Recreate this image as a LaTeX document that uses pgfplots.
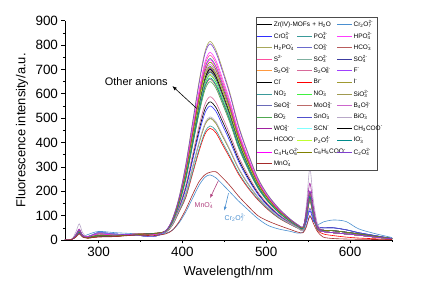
\documentclass[border=0pt]{standalone}
\usepackage{pgfplots}
\pgfplotsset{compat=1.18}
\usepackage{fontspec}
\setmainfont{Liberation Sans}
\usetikzlibrary{arrows.meta}
\newcommand{\io}[2]{\makebox[0pt][l]{\textsubscript{#1}}\textsuperscript{#2}}
\definecolor{c1}{HTML}{000000}
\definecolor{c2}{HTML}{4A8FD0}
\definecolor{c3}{HTML}{2F2FFF}
\definecolor{c4}{HTML}{3A9A9A}
\definecolor{c5}{HTML}{FF3CFF}
\definecolor{c6}{HTML}{A8A85A}
\definecolor{c7}{HTML}{6A6ACC}
\definecolor{c8}{HTML}{B85C5C}
\definecolor{c9}{HTML}{FF4FA0}
\definecolor{c10}{HTML}{7FB0A0}
\definecolor{c11}{HTML}{3C3CA0}
\definecolor{c12}{HTML}{FF9A40}
\definecolor{c13}{HTML}{D86A9A}
\definecolor{c14}{HTML}{A040FF}
\definecolor{c15}{HTML}{000000}
\definecolor{c16}{HTML}{FF0000}
\definecolor{c17}{HTML}{A09A30}
\definecolor{c18}{HTML}{3A9A9A}
\definecolor{c19}{HTML}{40F040}
\definecolor{c20}{HTML}{A09A50}
\definecolor{c21}{HTML}{6A6AB8}
\definecolor{c22}{HTML}{BC6A6A}
\definecolor{c23}{HTML}{CC66CC}
\definecolor{c24}{HTML}{50A850}
\definecolor{c25}{HTML}{5050CC}
\definecolor{c26}{HTML}{B8A8C8}
\definecolor{c27}{HTML}{A020A0}
\definecolor{c28}{HTML}{80FFFF}
\definecolor{c29}{HTML}{000000}
\definecolor{c30}{HTML}{505050}
\definecolor{c31}{HTML}{C0FF30}
\definecolor{c32}{HTML}{008B8B}
\definecolor{c33}{HTML}{FF00FF}
\definecolor{c34}{HTML}{808000}
\definecolor{c35}{HTML}{8040D0}
\definecolor{c36}{HTML}{A52A2A}
\definecolor{mnlab}{HTML}{B0407E}
\begin{document}
\begin{tikzpicture}
\begin{axis}[
  width=327bp, height=219.3bp, scale only axis,
  xmin=260, xmax=650, ymin=0, ymax=900,
  axis x line*=bottom, axis y line*=left, axis line style={-, line width=0.6bp},
  xtick={300,400,500,600}, minor xtick={350,450,550,650},
  ytick={0,100,...,900}, minor ytick={50,150,...,850},
  tick align=outside, major tick length=3.5bp, minor tick length=2bp,
  tick style={line width=0.6bp, black},
  /pgf/number format/assume math mode=true,
  tick label style={font=\fontsize{13.5}{15}\selectfont},
  every axis x label/.style={at={(axis description cs:0.5,-0.146)}, anchor=center, font=\fontsize{13}{15}\selectfont},
  every axis y label/.style={at={(axis description cs:-0.1315,0.5)}, anchor=center, rotate=90, font=\fontsize{13}{15}\selectfont},
  xlabel={Wavelength/nm}, ylabel={Fluorescence intensity/a.u.},
  every axis plot/.append style={line width=0.6bp, smooth, tension=0.5, mark=none},
  legend columns=3,
  legend cell align=left,
  legend image code/.code={\draw[#1, line width=0.9bp] (0bp,0bp) -- (15bp,0bp);},
  legend style={at={(0.583,1.0155)}, anchor=north west, draw=black!70, line width=0.6bp,
    font=\fontsize{6.5}{7}\selectfont, inner xsep=1bp, inner ysep=1bp, row sep=0pt, column sep=0pt,
    nodes={inner xsep=1bp, inner ysep=0pt, minimum height=11.6bp, text width=22bp, align=left}},
]
\addplot[c1] coordinates {(260,0)(268,2)(273,18)(277,35)(281,16)(287,10)(300,18)(320,17)(345,22)(365,25)(380,34)(388,68)(396,133)(404,215)(412,334)(420,453)(427,538)(433,567)(440,544)(448,485)(457,416)(467,331)(478,259)(490,192)(502,143)(515,102)(528,72)(538,52)(544,44)(548,103)(552,185)(556,114)(561,47)(568,35)(580,30)(595,25)(610,20)(630,12)(650,5)};
\addlegendentry{\makebox[0pt][l]{Zr(IV)-MOFs + H\textsubscript{2}O}}
\addlegendimage{empty legend}\addlegendentry{}
\addplot[c2] coordinates {(260,0)(268,2)(273,14)(277,28)(281,14)(287,22)(300,35)(320,30)(345,25)(365,15)(380,28)(388,40)(396,70)(404,115)(412,170)(420,225)(427,258)(433,267)(440,255)(448,228)(457,196)(467,160)(478,125)(490,88)(502,60)(515,45)(528,36)(538,28)(544,33)(548,62)(552,94)(556,78)(561,62)(568,74)(580,82)(595,76)(610,46)(630,26)(650,10)};
\addlegendentry{Cr\textsubscript{2}O\io{7}{2-}}
\addplot[c3] coordinates {(260,0)(268,2)(273,15)(277,30)(281,14)(287,12)(300,30)(320,24)(345,20)(365,14)(380,34)(388,66)(396,130)(404,209)(412,324)(420,440)(427,522)(433,550)(440,528)(448,470)(457,403)(467,322)(478,252)(490,188)(502,140)(515,100)(528,71)(538,52)(544,44)(548,76)(552,120)(556,82)(561,55)(568,50)(580,50)(595,42)(610,30)(630,18)(650,6)};
\addlegendentry{CrO\io{4}{2-}}
\addplot[c4] coordinates {(260,0)(268,2)(273,19)(277,38)(281,17)(287,10)(300,18)(320,17)(345,22)(365,25)(380,37)(388,80)(396,163)(404,283)(412,440)(420,596)(427,708)(433,745)(440,713)(448,639)(457,548)(467,431)(478,332)(490,237)(502,173)(515,122)(528,83)(538,59)(544,51)(548,109)(552,190)(556,120)(561,48)(568,35)(580,30)(595,25)(610,20)(630,12)(650,5)};
\addlegendentry{PO\io{4}{3-}}
\addplot[c5] coordinates {(260,0)(268,2)(273,20)(277,40)(281,18)(287,14)(300,25)(320,20)(345,24)(365,22)(380,37)(388,82)(396,167)(404,293)(412,454)(420,616)(427,731)(433,770)(440,737)(448,661)(457,567)(467,445)(478,342)(490,244)(502,177)(515,125)(528,85)(538,60)(544,52)(548,114)(552,200)(556,126)(561,50)(568,40)(580,38)(595,32)(610,25)(630,15)(650,6)};
\addlegendentry{HPO\io{4}{2-}}
\addplot[c6] coordinates {(260,0)(268,2)(273,20)(277,40)(281,18)(287,10)(300,18)(320,17)(345,22)(365,25)(380,38)(388,85)(396,175)(404,310)(412,481)(420,652)(427,774)(433,815)(440,780)(448,700)(457,600)(467,470)(478,360)(490,255)(502,185)(515,130)(528,88)(538,62)(544,54)(548,113)(552,195)(556,124)(561,49)(568,35)(580,30)(595,25)(610,20)(630,12)(650,5)};
\addlegendentry{H\textsubscript{2}PO\io{4}{-}}
\addplot[c7] coordinates {(260,0)(268,2)(273,18)(277,36)(281,16)(287,12)(300,30)(320,24)(345,20)(365,14)(380,36)(388,77)(396,157)(404,268)(412,416)(420,564)(427,670)(433,705)(440,675)(448,605)(457,518)(467,408)(478,315)(490,227)(502,167)(515,118)(528,81)(538,58)(544,50)(548,107)(552,185)(556,117)(561,47)(568,40)(580,38)(595,32)(610,25)(630,15)(650,6)};
\addlegendentry{CO\io{3}{2-}}
\addplot[c8] coordinates {(260,0)(268,2)(273,18)(277,35)(281,16)(287,14)(300,25)(320,20)(345,24)(365,22)(380,36)(388,76)(396,154)(404,262)(412,407)(420,552)(427,655)(433,690)(440,661)(448,592)(457,507)(467,400)(478,309)(490,224)(502,164)(515,116)(528,80)(538,57)(544,49)(548,104)(552,180)(556,114)(561,46)(568,35)(580,30)(595,25)(610,20)(630,12)(650,5)};
\addlegendentry{HCO\io{3}{-}}
\addplot[c9] coordinates {(260,0)(268,2)(273,19)(277,38)(281,17)(287,10)(300,18)(320,17)(345,22)(365,25)(380,37)(388,81)(396,165)(404,288)(412,447)(420,606)(427,720)(433,758)(440,726)(448,650)(457,558)(467,438)(478,337)(490,241)(502,175)(515,124)(528,84)(538,60)(544,52)(548,112)(552,195)(556,123)(561,49)(568,35)(580,30)(595,25)(610,20)(630,12)(650,5)};
\addlegendentry{S\textsuperscript{2-}}
\addplot[c10] coordinates {(260,0)(268,2)(273,16)(277,33)(281,15)(287,8)(300,14)(320,15)(345,24)(365,27)(380,33)(388,63)(396,122)(404,190)(412,295)(420,400)(427,475)(433,500)(440,480)(448,427)(457,366)(467,294)(478,232)(490,176)(502,132)(515,95)(528,68)(538,50)(544,42)(548,96)(552,170)(556,106)(561,44)(568,35)(580,30)(595,25)(610,20)(630,12)(650,5)};
\addlegendentry{SO\io{3}{2-}}
\addplot[c11] coordinates {(260,0)(268,2)(273,18)(277,36)(281,16)(287,12)(300,30)(320,24)(345,20)(365,14)(380,36)(388,78)(396,158)(404,271)(412,420)(420,569)(427,676)(433,712)(440,682)(448,610)(457,523)(467,412)(478,318)(490,229)(502,168)(515,118)(528,81)(538,58)(544,50)(548,107)(552,185)(556,117)(561,55)(568,50)(580,50)(595,42)(610,30)(630,18)(650,6)};
\addlegendentry{SO\io{4}{2-}}
\addplot[c12] coordinates {(260,0)(268,2)(273,17)(277,34)(281,15)(287,8)(300,14)(320,15)(345,24)(365,27)(380,36)(388,76)(396,152)(404,259)(412,401)(420,544)(427,646)(433,680)(440,651)(448,583)(457,500)(467,394)(478,305)(490,221)(502,162)(515,115)(528,79)(538,57)(544,49)(548,102)(552,175)(556,112)(561,45)(568,40)(580,38)(595,32)(610,25)(630,15)(650,6)};
\addlegendentry{S\textsubscript{2}O\io{3}{2-}}
\addplot[c13] coordinates {(260,0)(268,2)(273,17)(277,34)(281,15)(287,10)(300,18)(320,17)(345,22)(365,25)(380,34)(388,69)(396,137)(404,224)(412,347)(420,470)(427,558)(433,588)(440,564)(448,503)(457,431)(467,343)(478,268)(490,198)(502,147)(515,105)(528,73)(538,53)(544,45)(548,100)(552,175)(556,110)(561,45)(568,35)(580,30)(595,25)(610,20)(630,12)(650,5)};
\addlegendentry{S\textsubscript{2}O\io{8}{2-}}
\addplot[c14] coordinates {(260,0)(268,2)(273,19)(277,38)(281,17)(287,14)(300,25)(320,20)(345,24)(365,22)(380,36)(388,77)(396,156)(404,266)(412,413)(420,560)(427,665)(433,700)(440,671)(448,600)(457,515)(467,406)(478,313)(490,226)(502,166)(515,117)(528,81)(538,57)(544,49)(548,108)(552,190)(556,120)(561,48)(568,40)(580,38)(595,32)(610,25)(630,15)(650,6)};
\addlegendentry{F\textsuperscript{-}}
\addplot[c15] coordinates {(260,0)(268,2)(273,18)(277,35)(281,16)(287,10)(300,18)(320,17)(345,22)(365,25)(380,36)(388,78)(396,157)(404,270)(412,419)(420,568)(427,674)(433,710)(440,680)(448,609)(457,522)(467,411)(478,317)(490,229)(502,167)(515,118)(528,81)(538,58)(544,50)(548,105)(552,180)(556,115)(561,46)(568,35)(580,30)(595,25)(610,20)(630,12)(650,5)};
\addlegendentry{Cl\textsuperscript{-}}
\addplot[c16] coordinates {(260,0)(268,2)(273,15)(277,30)(281,14)(287,8)(300,14)(320,15)(345,24)(365,27)(380,32)(388,60)(396,115)(404,174)(412,270)(420,366)(427,435)(433,458)(440,440)(448,390)(457,335)(467,270)(478,215)(490,165)(502,125)(515,90)(528,65)(538,48)(544,40)(548,90)(552,160)(556,100)(561,42)(568,25)(580,18)(595,12)(610,8)(630,5)(650,2)};
\addlegendentry{Br\textsuperscript{-}}
\addplot[c17] coordinates {(260,0)(268,2)(273,16)(277,32)(281,14)(287,10)(300,18)(320,17)(345,22)(365,25)(380,33)(388,63)(396,122)(404,189)(412,294)(420,398)(427,473)(433,498)(440,478)(448,425)(457,365)(467,292)(478,231)(490,175)(502,132)(515,94)(528,68)(538,50)(544,42)(548,94)(552,165)(556,104)(561,43)(568,35)(580,30)(595,25)(610,20)(630,12)(650,5)};
\addlegendentry{I\textsuperscript{-}}
\addplot[c18] coordinates {(260,0)(268,2)(273,16)(277,32)(281,14)(287,14)(300,25)(320,20)(345,24)(365,22)(380,33)(388,61)(396,117)(404,178)(412,276)(420,374)(427,444)(433,468)(440,450)(448,399)(457,342)(467,276)(478,219)(490,168)(502,127)(515,91)(528,66)(538,48)(544,40)(548,93)(552,165)(556,103)(561,43)(568,35)(580,30)(595,25)(610,20)(630,12)(650,5)};
\addlegendentry{NO\io{2}{-}}
\addplot[c19] coordinates {(260,0)(268,2)(273,17)(277,34)(281,15)(287,10)(300,18)(320,17)(345,22)(365,25)(380,36)(388,75)(396,151)(404,257)(412,398)(420,540)(427,641)(433,675)(440,647)(448,578)(457,496)(467,392)(478,303)(490,220)(502,161)(515,114)(528,79)(538,57)(544,49)(548,104)(552,180)(556,115)(561,46)(568,40)(580,38)(595,32)(610,25)(630,15)(650,6)};
\addlegendentry{NO\io{3}{-}}
\addplot[c20] coordinates {(260,0)(268,2)(273,18)(277,35)(281,16)(287,8)(300,14)(320,15)(345,24)(365,27)(380,36)(388,77)(396,155)(404,264)(412,410)(420,556)(427,660)(433,695)(440,666)(448,596)(457,511)(467,403)(478,311)(490,225)(502,165)(515,117)(528,80)(538,57)(544,49)(548,104)(552,180)(556,115)(561,46)(568,35)(580,30)(595,25)(610,20)(630,12)(650,5)};
\addlegendentry{SiO\io{3}{2-}}
\addplot[c21] coordinates {(260,0)(268,2)(273,18)(277,36)(281,16)(287,12)(300,30)(320,24)(345,20)(365,14)(380,36)(388,76)(396,154)(404,262)(412,407)(420,552)(427,655)(433,690)(440,661)(448,592)(457,507)(467,400)(478,309)(490,224)(502,164)(515,116)(528,80)(538,57)(544,49)(548,108)(552,190)(556,120)(561,48)(568,40)(580,38)(595,32)(610,25)(630,15)(650,6)};
\addlegendentry{SeO\io{4}{2-}}
\addplot[c22] coordinates {(260,0)(268,2)(273,17)(277,34)(281,15)(287,14)(300,25)(320,20)(345,24)(365,22)(380,35)(388,74)(396,149)(404,251)(412,389)(420,528)(427,627)(433,660)(440,632)(448,565)(457,485)(467,383)(478,297)(490,216)(502,159)(515,113)(528,78)(538,56)(544,48)(548,101)(552,175)(556,112)(561,45)(568,35)(580,30)(595,25)(610,20)(630,12)(650,5)};
\addlegendentry{MoO\io{4}{2-}}
\addplot[c23] coordinates {(260,0)(268,2)(273,20)(277,40)(281,18)(287,10)(300,18)(320,17)(345,22)(365,25)(380,36)(388,78)(396,159)(404,274)(412,425)(420,576)(427,684)(433,720)(440,690)(448,618)(457,530)(467,417)(478,321)(490,231)(502,169)(515,119)(528,82)(538,58)(544,50)(548,113)(552,200)(556,125)(561,50)(568,40)(580,38)(595,32)(610,25)(630,15)(650,6)};
\addlegendentry{B\textsubscript{4}O\io{7}{2-}}
\addplot[c24] coordinates {(260,0)(268,2)(273,17)(277,34)(281,15)(287,14)(300,25)(320,20)(345,24)(365,22)(380,35)(388,73)(396,147)(404,247)(412,384)(420,520)(427,617)(433,650)(440,623)(448,557)(457,478)(467,378)(478,293)(490,213)(502,157)(515,112)(528,77)(538,56)(544,48)(548,103)(552,180)(556,114)(561,46)(568,35)(580,30)(595,25)(610,20)(630,12)(650,5)};
\addlegendentry{BO\io{2}{-}}
\addplot[c25] coordinates {(260,0)(268,2)(273,16)(277,32)(281,14)(287,12)(300,30)(320,24)(345,20)(365,14)(380,36)(388,77)(396,156)(404,266)(412,413)(420,560)(427,665)(433,700)(440,671)(448,600)(457,515)(467,406)(478,313)(490,226)(502,166)(515,117)(528,81)(538,57)(544,49)(548,83)(552,130)(556,90)(561,55)(568,50)(580,50)(595,42)(610,30)(630,18)(650,6)};
\addlegendentry{SnO\io{3}{-}}
\addplot[c26] coordinates {(260,0)(268,3)(273,33)(277,66)(281,30)(287,12)(300,18)(320,17)(345,22)(365,25)(380,33)(388,63)(396,123)(404,192)(412,298)(420,404)(427,480)(433,505)(440,485)(448,431)(457,370)(467,296)(478,234)(490,177)(502,133)(515,95)(528,68)(538,50)(544,42)(548,148)(552,294)(556,168)(561,69)(568,35)(580,30)(595,25)(610,20)(630,12)(650,5)};
\addlegendentry{BiO\io{3}{-}}
\addplot[c27] coordinates {(260,0)(268,2)(273,22)(277,45)(281,20)(287,14)(300,25)(320,20)(345,24)(365,22)(380,36)(388,77)(396,157)(404,268)(412,416)(420,564)(427,670)(433,705)(440,675)(448,605)(457,518)(467,408)(478,315)(490,227)(502,167)(515,118)(528,81)(538,58)(544,50)(548,127)(552,233)(556,142)(561,57)(568,40)(580,38)(595,32)(610,25)(630,15)(650,6)};
\addlegendentry{WO\io{4}{2-}}
\addplot[c28] coordinates {(260,0)(268,2)(273,18)(277,35)(281,16)(287,12)(300,30)(320,24)(345,20)(365,14)(380,36)(388,76)(396,153)(404,260)(412,404)(420,548)(427,651)(433,685)(440,656)(448,587)(457,504)(467,397)(478,307)(490,222)(502,163)(515,115)(528,80)(538,57)(544,49)(548,106)(552,185)(556,117)(561,47)(568,35)(580,30)(595,25)(610,20)(630,12)(650,5)};
\addlegendentry{SCN\textsuperscript{-}}
\addplot[c29] coordinates {(260,0)(268,2)(273,18)(277,35)(281,16)(287,10)(300,18)(320,17)(345,22)(365,25)(380,36)(388,77)(396,156)(404,266)(412,413)(420,560)(427,665)(433,700)(440,671)(448,600)(457,515)(467,406)(478,313)(490,226)(502,166)(515,117)(528,81)(538,57)(544,49)(548,106)(552,185)(556,117)(561,47)(568,35)(580,30)(595,25)(610,20)(630,12)(650,5)};
\addlegendentry{CH\textsubscript{3}COO\textsuperscript{-}}
\addplot[c30] coordinates {(260,0)(268,2)(273,17)(277,34)(281,15)(287,8)(300,14)(320,15)(345,24)(365,27)(380,36)(388,76)(396,154)(404,262)(412,407)(420,552)(427,655)(433,690)(440,661)(448,592)(457,507)(467,400)(478,309)(490,224)(502,164)(515,116)(528,80)(538,57)(544,49)(548,104)(552,180)(556,114)(561,46)(568,40)(580,38)(595,32)(610,25)(630,15)(650,6)};
\addlegendentry{HCOO\textsuperscript{-}}
\addplot[c31] coordinates {(260,0)(268,2)(273,18)(277,36)(281,16)(287,14)(300,25)(320,20)(345,24)(365,22)(380,36)(388,78)(396,157)(404,270)(412,419)(420,568)(427,674)(433,710)(440,680)(448,609)(457,522)(467,411)(478,317)(490,229)(502,167)(515,118)(528,81)(538,58)(544,50)(548,109)(552,190)(556,120)(561,48)(568,35)(580,30)(595,25)(610,20)(630,12)(650,5)};
\addlegendentry{P\textsubscript{2}O\io{7}{4-}}
\addplot[c32] coordinates {(260,0)(268,2)(273,17)(277,34)(281,15)(287,10)(300,18)(320,17)(345,22)(365,25)(380,35)(388,75)(396,150)(404,253)(412,392)(420,532)(427,632)(433,665)(440,637)(448,570)(457,489)(467,386)(478,299)(490,217)(502,160)(515,113)(528,78)(538,56)(544,48)(548,103)(552,180)(556,114)(561,46)(568,40)(580,38)(595,32)(610,25)(630,15)(650,6)};
\addlegendentry{IO\io{3}{-}}
\addplot[c33] coordinates {(260,0)(268,2)(273,19)(277,38)(281,17)(287,14)(300,25)(320,20)(345,24)(365,22)(380,37)(388,80)(396,162)(404,281)(412,437)(420,592)(427,703)(433,740)(440,709)(448,635)(457,544)(467,428)(478,330)(490,236)(502,172)(515,122)(528,83)(538,59)(544,51)(548,111)(552,195)(556,123)(561,49)(568,35)(580,30)(595,25)(610,20)(630,12)(650,5)};
\addlegendentry{C\textsubscript{4}H\textsubscript{4}O\io{6}{2-}}
\addplot[c34] coordinates {(260,0)(268,2)(273,19)(277,38)(281,17)(287,10)(300,18)(320,17)(345,22)(365,25)(380,37)(388,79)(396,161)(404,278)(412,431)(420,584)(427,693)(433,730)(440,699)(448,626)(457,537)(467,422)(478,325)(490,234)(502,171)(515,120)(528,83)(538,59)(544,51)(548,111)(552,195)(556,123)(561,49)(568,40)(580,38)(595,32)(610,25)(630,15)(650,6)};
\addlegendentry{C\textsubscript{6}H\textsubscript{5}COO\textsuperscript{-}}
\addplot[c35] coordinates {(260,0)(268,2)(273,20)(277,40)(281,18)(287,12)(300,30)(320,24)(345,20)(365,14)(380,38)(388,84)(396,173)(404,306)(412,475)(420,644)(427,765)(433,805)(440,770)(448,691)(457,593)(467,464)(478,356)(490,252)(502,183)(515,129)(528,87)(538,62)(544,54)(548,115)(552,200)(556,127)(561,50)(568,35)(580,30)(595,25)(610,20)(630,12)(650,5)};
\addlegendentry{C\textsubscript{2}O\io{4}{2-}}
\addplot[c36] coordinates {(260,0)(268,2)(273,12)(277,25)(281,12)(287,8)(300,12)(320,14)(345,20)(365,18)(380,25)(388,40)(396,75)(404,125)(412,185)(420,240)(427,268)(433,278)(440,280)(448,255)(457,222)(467,180)(478,140)(490,100)(502,78)(515,60)(528,44)(538,32)(544,30)(548,55)(552,100)(556,70)(561,35)(568,12)(580,6)(595,4)(610,3)(630,2)(650,1)};
\addlegendentry{MnO\io{4}{-}}
\node[font=\fontsize{11}{13}\selectfont] at (axis cs:345,652) {Other anions};
\draw[-{Latex[length=4.5bp,width=3.5bp]}, line width=0.6bp] (axis cs:417,540) -- (axis cs:388,632);
\node[text=mnlab, font=\fontsize{7}{8}\selectfont] at (axis cs:425,140) {MnO\io{4}{-}};
\draw[-{Latex[length=4bp,width=3bp]}, line width=0.6bp, mnlab] (axis cs:443,244) -- (axis cs:433,172);
\node[text=c2, font=\fontsize{7}{8}\selectfont] at (axis cs:463,92) {Cr\textsubscript{2}O\io{7}{2-}};
\draw[-{Latex[length=4bp,width=3bp]}, line width=0.6bp, c2] (axis cs:455,192) -- (axis cs:450,120);
\end{axis}
\path ([shift={(-65bp,-46bp)}]current axis.south west) rectangle ([shift={(37bp,20.7bp)}]current axis.north east);
\end{tikzpicture}
\end{document}
